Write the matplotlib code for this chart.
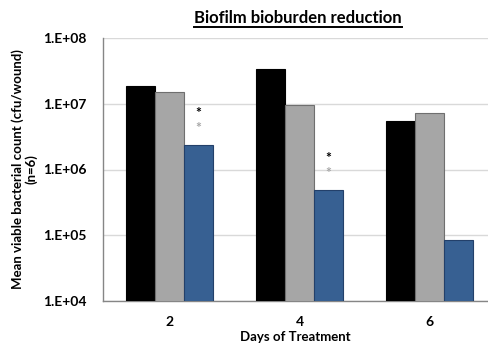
import numpy as np
import matplotlib
matplotlib.use("Agg")
import matplotlib.pyplot as plt
from matplotlib.lines import Line2D

plt.rcParams["font.family"] = ["Lato", "DejaVu Sans"]
plt.rcParams["font.weight"] = "bold"

days = ["2", "4", "6"]
series_a = [1.86e7, 3.4e7, 5.5e6]   # black
series_b = [1.5e7, 9.6e6, 7.3e6]    # gray
series_c = [2.4e6, 4.9e5, 8.5e4]    # blue
starred = [0, 1]                    # groups with significance marks
yticks = [1e4, 1e5, 1e6, 1e7, 1e8]
ytick_labels = ["1.E+04", "1.E+05", "1.E+06", "1.E+07", "1.E+08"]

fig = plt.figure(figsize=(4.88, 3.46), dpi=100)
ax = fig.add_axes([103 / 488, 1 - 301 / 346, 1 - 103 / 488, (301 - 38) / 346])

x = np.arange(len(days))
w = 0.223
ax.bar(x - w, series_a, w, color="#000000", edgecolor="#000000", linewidth=0.8, zorder=3)
ax.bar(x, series_b, w, color="#a6a6a6", edgecolor="#6f6f6f", linewidth=0.8, zorder=3)
ax.bar(x + w, series_c, w, color="#376092", edgecolor="#23406a", linewidth=0.8, zorder=3)

for i in starred:
    ax.annotate("*", (x[i] + w, series_c[i]), xytext=(0, 23), textcoords="offset points",
                ha="center", va="center", fontsize=10, fontweight="bold", color="#000000")
    ax.annotate("*", (x[i] + w, series_c[i]), xytext=(0, 12), textcoords="offset points",
                ha="center", va="center", fontsize=10, fontweight="bold", color="#a6a6a6")

ax.set_yscale("log")
ax.set_ylim(1e4, 1e8)
ax.set_xlim(-0.508, 2.446)
ax.set_yticks(yticks)
ax.set_yticklabels(ytick_labels, fontweight="bold")
ax.minorticks_off()
ax.set_xticks(x)
ax.set_xticklabels(days, fontweight="bold")
ax.tick_params(axis="both", length=0, labelsize=10)
ax.tick_params(axis="y", pad=12)
ax.tick_params(axis="x", pad=11)
ax.yaxis.grid(True, color="#d9d9d9", linewidth=1, zorder=0)
ax.set_axisbelow(True)
for s in ["top", "right"]:
    ax.spines[s].set_visible(False)
for s in ["left", "bottom"]:
    ax.spines[s].set_color("#868686")
    ax.spines[s].set_linewidth(1)

ax.set_xlabel("Days of Treatment", fontsize=9.5, fontweight="bold", labelpad=2)
ax.set_ylabel("Mean viable bacterial count (cfu/wound)\n(n=6)", fontsize=9.5,
              fontweight="bold", labelpad=4, linespacing=1.1)

title = fig.text(298 / 488, 1 - 18 / 346, "Biofilm bioburden reduction", ha="center",
                 va="center", fontsize=12, fontweight="bold")

# underline the title
fig.canvas.draw()
bb = title.get_window_extent().transformed(fig.transFigure.inverted())
yline = bb.y0 - 0.004
fig.add_artist(Line2D([bb.x0, bb.x1], [yline, yline], color="black", linewidth=1.4,
                      transform=fig.transFigure))

fig.savefig("out.png", dpi=100)
